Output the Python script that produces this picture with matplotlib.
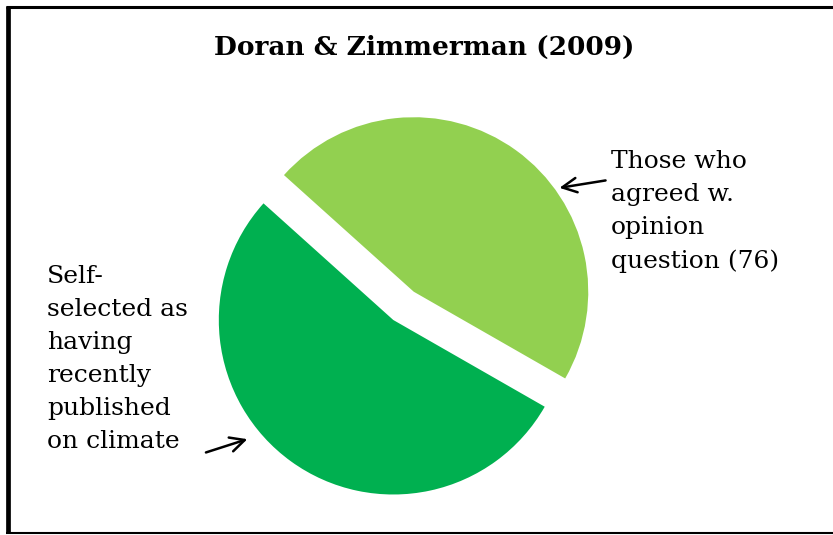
import matplotlib.pyplot as plt

# slice data: agreed vs. the rest of the self-selected group
slice_names = ["Those who\nagreed w.\nopinion\nquestion (76)",
               "Self-\nselected as\nhaving\nrecently\npublished\non climate"]
slice_values = [76, 87]
slice_colors = ["#92D050", "#00B050"]
title = "Doran & Zimmerman (2009)"

W, H = 833, 535
fig = plt.figure(figsize=(W / 100, H / 100), dpi=100)
ax = fig.add_axes([0, 0, 1, 1])

# pie in pixel coordinates (y measured from bottom); explode is in data units here
r = 174.5
ax.pie(slice_values, colors=slice_colors, startangle=-29.8, counterclock=True,
       explode=[0.2 * r, 0.0], radius=r, center=(393.3, H - 320),
       wedgeprops=dict(linewidth=0))
ax.set_xlim(0, W)
ax.set_ylim(0, H)
ax.set_aspect("equal")
ax.axis("off")

# frame round the slide
ax.plot([8, 8], [H - 6, H - 533], color="black", lw=3.4, solid_capstyle="butt")
ax.plot([6, W], [H - 7, H - 7], color="black", lw=2.2, solid_capstyle="butt")
ax.plot([6, W], [H - 533, H - 533], color="black", lw=1.5, solid_capstyle="butt")

ax.text(424, H - 47, title, ha="center", va="center", fontsize=19,
        fontweight="bold", family="DejaVu Serif")

ax.text(611, H - 268.3, slice_names[0], ha="left", va="baseline", fontsize=18,
        family="DejaVu Serif", linespacing=1.56)
ax.text(47, H - 448.3, slice_names[1], ha="left", va="baseline", fontsize=18,
        family="DejaVu Serif", linespacing=1.56)

arrow = dict(arrowstyle="->", color="black", lw=1.8, mutation_scale=26)
ax.annotate("", xy=(556.7, H - 188.3), xytext=(608.3, H - 180), arrowprops=arrow)
ax.annotate("", xy=(250, H - 438.3), xytext=(203.3, H - 453.3), arrowprops=arrow)

fig.savefig("out.png", dpi=100)
